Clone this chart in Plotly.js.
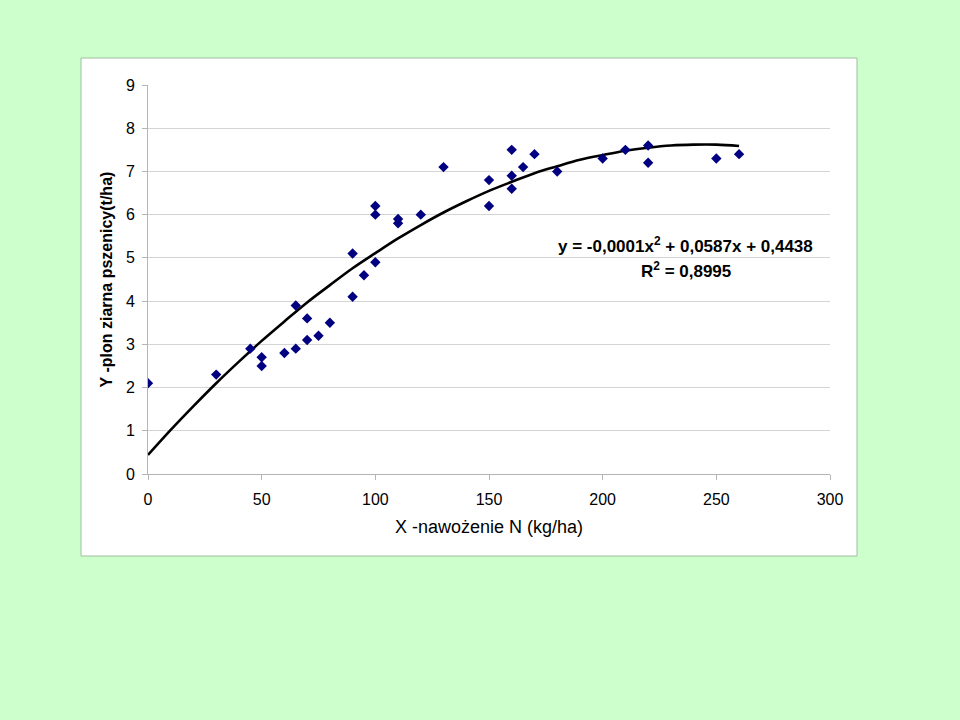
<!DOCTYPE html>
<html>
<head>
<meta charset="utf-8">
<script src="https://cdn.plot.ly/plotly-3.0.1.min.js"></script>
<style>
  html, body { margin: 0; padding: 0; background: #CCFFCC; }
  #chart { width: 960px; height: 720px; }
</style>
</head>
<body>
<div id="chart"></div>
<script>
// Measured points: nitrogen dose (kg/ha) and grain yield (t/ha)
const nitrogenX = [0, 30, 45, 50, 50, 60, 65, 65, 70, 70, 75, 80, 90, 90, 95, 100, 100, 100, 110, 110, 120, 130, 150, 150, 160, 160, 160, 165, 170, 180, 200, 210, 220, 220, 250, 260];
const yieldY    = [2.1, 2.3, 2.9, 2.7, 2.5, 2.8, 2.9, 3.9, 3.6, 3.1, 3.2, 3.5, 5.1, 4.1, 4.6, 4.9, 6.0, 6.2, 5.9, 5.8, 6.0, 7.1, 6.8, 6.2, 7.5, 6.9, 6.6, 7.1, 7.4, 7.0, 7.3, 7.5, 7.6, 7.2, 7.3, 7.4];

// Trend line
const trendX = [0, 10, 20, 30, 40, 50, 60, 70, 80, 90, 100, 110, 120, 130, 140, 150, 160, 170, 180, 190, 200, 210, 220, 230, 240, 250, 260];
const trendY = [0.44, 1.02, 1.57, 2.10, 2.60, 3.08, 3.53, 3.97, 4.37, 4.76, 5.11, 5.45, 5.76, 6.05, 6.31, 6.55, 6.76, 6.96, 7.12, 7.27, 7.38, 7.48, 7.55, 7.60, 7.62, 7.62, 7.59];

const xTitle = "X -nawożenie N (kg/ha)";
const yTitle = "Y -plon ziarna pszenicy(t/ha)";
const eqText = "y = -0,0001x<sup>2</sup> + 0,0587x + 0,4438";
const r2Text = "R<sup>2</sup> = 0,8995";

const font = "Arial, 'Liberation Sans', sans-serif";

const traces = [
  {
    x: trendX, y: trendY, type: "scatter", mode: "lines",
    line: { color: "#000000", width: 2.6, shape: "spline" },
    hoverinfo: "skip", showlegend: false
  },
  {
    x: nitrogenX, y: yieldY, type: "scatter", mode: "markers",
    marker: { symbol: "diamond", size: 8, color: "#000080" },
    showlegend: false
  }
];

const layout = {
  width: 960, height: 720,
  paper_bgcolor: "#CCFFCC",
  plot_bgcolor: "#FFFFFF",
  margin: { l: 148, r: 130, t: 85, b: 246 },
  font: { family: font, size: 16, color: "#000000" },
  showlegend: false,
  xaxis: {
    range: [0, 300], dtick: 50, tick0: 0,
    showgrid: false, zeroline: false,
    showline: true, linecolor: "#B4B4B4", linewidth: 1,
    ticks: "outside", ticklen: 5, tickcolor: "#B4B4B4",
    ticklabelstandoff: 6,
    tickfont: { family: font, size: 16, color: "#000000" },
    title: { text: xTitle, font: { family: font, size: 18, color: "#000000" }, standoff: 13 },
    automargin: false, fixedrange: true
  },
  yaxis: {
    range: [0, 9], dtick: 1, tick0: 0,
    showgrid: true, gridcolor: "#D4D4D4", gridwidth: 1,
    zeroline: false,
    showline: true, linecolor: "#B4B4B4", linewidth: 1,
    ticks: "outside", ticklen: 5, tickcolor: "#B4B4B4",
    ticklabelstandoff: 4,
    tickfont: { family: font, size: 16, color: "#000000" },
    title: { text: yTitle, font: { family: font, size: 16, color: "#000000", weight: "bold" }, standoff: 9 },
    automargin: false, fixedrange: true
  },
  shapes: [
    {
      type: "rect", xref: "paper", yref: "paper", layer: "below",
      x0: -0.0982, x1: 1.0396, y0: -0.2108, y1: 1.0694,
      fillcolor: "#FFFFFF", line: { color: "#9FBF9F", width: 1 }
    }
  ],
  annotations: [
    {
      x: 236.5, y: 5.30, xref: "x", yref: "y", text: eqText, showarrow: false,
      font: { family: font, size: 17, color: "#000000", weight: "bold" }
    },
    {
      x: 236.5, y: 4.72, xref: "x", yref: "y", text: r2Text, showarrow: false,
      font: { family: font, size: 17, color: "#000000", weight: "bold" }
    }
  ]
};

Plotly.newPlot("chart", traces, layout, { displayModeBar: false, staticPlot: true });
</script>
</body>
</html>
